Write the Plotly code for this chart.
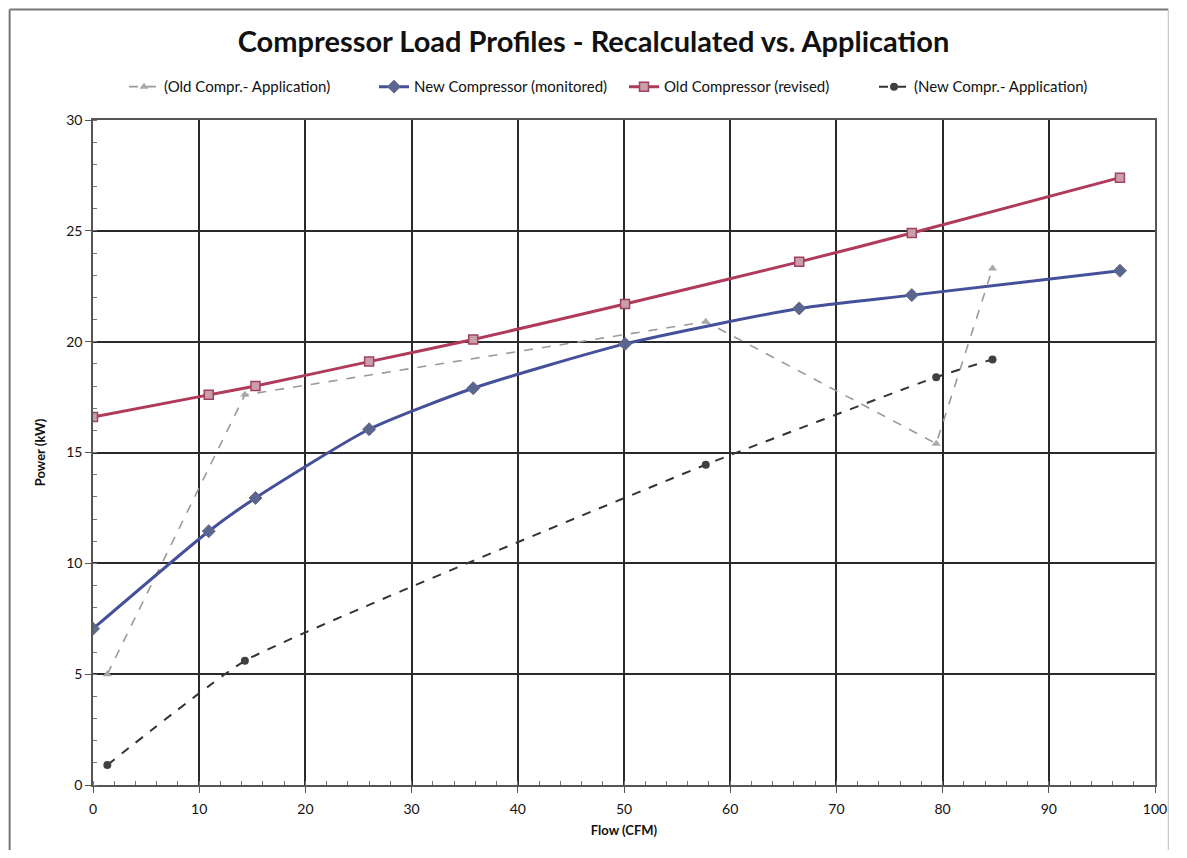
import plotly.graph_objects as go

# ---- data ----
flow_recalc = [0.0, 10.9, 15.3, 26.0, 35.8, 50.1, 66.5, 77.1, 96.7]
power_new_monitored = [7.05, 11.45, 12.95, 16.05, 17.9, 19.9, 21.5, 22.1, 23.2]
power_old_revised = [16.6, 17.6, 18.0, 19.1, 20.1, 21.7, 23.6, 24.9, 27.4]

flow_application = [1.35, 14.3, 57.7, 79.4, 84.7]
power_old_application = [5.0, 17.6, 20.9, 15.4, 23.3]
power_new_application = [0.9, 5.6, 14.45, 18.4, 19.2]

x_ticks = [0, 10, 20, 30, 40, 50, 60, 70, 80, 90, 100]
y_ticks = [0, 5, 10, 15, 20, 25, 30]

title_text = "Compressor Load Profiles - Recalculated vs. Application"
x_title = "Flow (CFM)"
y_title = "Power (kW)"

FONT = "Lato, 'Open Sans', sans-serif"

fig = go.Figure()

fig.add_trace(go.Scatter(
    x=flow_application, y=power_old_application,
    name="(Old Compr.- Application)", mode="lines+markers",
    line=dict(color="#9a9a9a", width=1.6, dash="dash"),
    marker=dict(symbol="triangle-up", size=8, color="#a8a8a8"),
))
fig.add_trace(go.Scatter(
    x=flow_recalc, y=power_new_monitored,
    name="New Compressor (monitored)", mode="lines+markers",
    line=dict(color="#45509a", width=3, shape="spline", smoothing=0.6),
    marker=dict(symbol="diamond", size=10, color="#5a6590",
                line=dict(color="#6a6a8a", width=1)),
))
fig.add_trace(go.Scatter(
    x=flow_recalc, y=power_old_revised,
    name="Old Compressor (revised)", mode="lines+markers",
    line=dict(color="#b03a5a", width=3, shape="spline", smoothing=0.6),
    marker=dict(symbol="square", size=9, color="#c9a0aa",
                line=dict(color="#a04060", width=1.5)),
))
fig.add_trace(go.Scatter(
    x=flow_application, y=power_new_application,
    name="(New Compr.- Application)", mode="lines+markers",
    line=dict(color="#333333", width=2, dash="dash", shape="spline", smoothing=0.4),
    marker=dict(symbol="circle", size=8, color="#404040"),
))

fig.update_layout(
    width=1171, height=842,
    paper_bgcolor="white", plot_bgcolor="white",
    margin=dict(l=85, r=15, t=112, b=65),
    font=dict(family=FONT, color="#111111"),
    title=dict(text="<b>" + title_text + "</b>", x=0.5, xanchor="center",
               y=1 - 34 / 842, yanchor="middle",
               font=dict(size=29, family=FONT, color="#111111")),
    legend=dict(orientation="h", x=0.5, xanchor="center", y=1.025, yanchor="bottom",
                font=dict(size=15, family=FONT, color="#111111"),
                entrywidth=205, entrywidthmode="pixels",
                bgcolor="rgba(0,0,0,0)", traceorder="normal"),
    showlegend=True,
)

fig.update_xaxes(
    range=[0, 100], tickvals=x_ticks, ticktext=[str(v) for v in x_ticks],
    showgrid=True, gridcolor="#2a2a2a", gridwidth=1.5,
    showline=True, linecolor="#555555", linewidth=1.5, mirror=True,
    ticks="outside", ticklen=6, tickcolor="#555555",
    minor=dict(dtick=2, ticks="inside", ticklen=4, tickcolor="#777777", showgrid=False),
    tickfont=dict(size=14, family=FONT, color="#111111"),
    ticklabelstandoff=4,
    title=dict(text="<b>" + x_title + "</b>", font=dict(size=13, family=FONT), standoff=10),
    zeroline=False,
)
fig.update_yaxes(
    range=[0, 30], tickvals=y_ticks, ticktext=[str(v) for v in y_ticks],
    showgrid=True, gridcolor="#2a2a2a", gridwidth=1.5,
    showline=True, linecolor="#555555", linewidth=1.5, mirror=True,
    ticks="outside", ticklen=6, tickcolor="#555555",
    minor=dict(dtick=1, ticks="inside", ticklen=4, tickcolor="#777777", showgrid=False),
    tickfont=dict(size=14, family=FONT, color="#111111"),
    title=dict(text="<b>" + y_title + "</b>", font=dict(size=13, family=FONT), standoff=18),
    zeroline=False,
)

# outer chart border (left, top and right edges)
fig.add_shape(type="line", xref="paper", yref="paper",
              x0=-0.0785, x1=-0.0785, y0=-0.1, y1=1.166,
              line=dict(color="#777777", width=2))
fig.add_shape(type="line", xref="paper", yref="paper",
              x0=-0.0785, x1=1.0125, y0=1.166, y1=1.166,
              line=dict(color="#777777", width=2))
fig.add_shape(type="line", xref="paper", yref="paper",
              x0=1.0125, x1=1.0125, y0=-0.1, y1=1.166,
              line=dict(color="#bbbbbb", width=1))

fig.write_html("out.html")
